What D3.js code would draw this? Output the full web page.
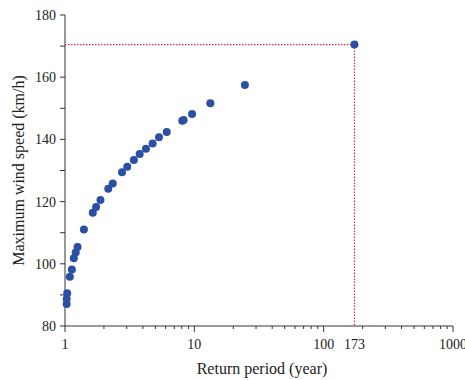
<!DOCTYPE html>
<html lang="en">
<head>
<meta charset="UTF-8">
<title>Return period</title>
<script src="https://d3js.org/d3.v7.min.js"></script>
<style>
  body { margin: 0; background: #fff; }
  text { font-family: "Liberation Serif", "Times New Roman", serif; fill: #222; }
</style>
</head>
<body>
<svg width="465" height="380"></svg>
<script>
// return period (year) and maximum wind speed (km/h)
const periods = [1.03, 1.03, 1.04, 1.09, 1.13, 1.17, 1.21, 1.25, 1.40, 1.64, 1.74, 1.88,
                 2.16, 2.34, 2.76, 3.03, 3.41, 3.78, 4.23, 4.76, 5.33, 6.12, 8.07, 8.26,
                 9.6, 13.3, 24.6, 173];
const speeds = [87.1, 88.7, 90.5, 95.8, 98.2, 101.8, 103.6, 105.4, 111.0, 116.4, 118.3, 120.5,
                124.1, 125.8, 129.4, 131.2, 133.4, 135.3, 137.0, 138.7, 140.7, 142.4, 146.0, 146.2,
                148.2, 151.6, 157.5, 170.5];
const xTickVals = [1, 10, 100, 173, 1000];
const yTickVals = [80, 100, 120, 140, 160, 180];
const designPeriod = 173, designSpeed = 170.5;

const svg = d3.select("svg");
const margin = {left: 65, right: 12, top: 15, bottom: 54};
const W = 465, H = 380;

const x = d3.scaleLog().domain([1, 1000]).range([margin.left, W - margin.right]);
const y = d3.scaleLinear().domain([80, 180]).range([H - margin.bottom, margin.top]);

const axisColor = "#333";

// minor x ticks (2..9 each decade)
const minorX = [];
[1, 10, 100].forEach(d => { for (let k = 2; k <= 9; k++) minorX.push(d * k); });
const xAxis = svg.append("g").attr("transform", `translate(0,${y(80)})`);
xAxis.append("line").attr("x1", x(1)).attr("x2", x(1000)).attr("stroke", axisColor);
xAxis.selectAll(".minor").data(minorX).enter().append("line")
  .attr("x1", d => x(d)).attr("x2", d => x(d)).attr("y1", 0).attr("y2", 3).attr("stroke", axisColor);
xAxis.selectAll(".major").data([1, 10, 100, 1000]).enter().append("line")
  .attr("x1", d => x(d)).attr("x2", d => x(d)).attr("y1", 0).attr("y2", 6).attr("stroke", axisColor);
xAxis.selectAll("text").data(xTickVals).enter().append("text")
  .attr("x", d => x(d)).attr("y", 23)
  .attr("text-anchor", "middle").style("font-size", "14px").text(d => d);

// y axis with ticks every 10, labels every 20
const yAxis = svg.append("g").attr("transform", `translate(${x(1)},0)`);
yAxis.append("line").attr("y1", y(80)).attr("y2", y(180)).attr("stroke", axisColor);
yAxis.selectAll(".tk").data(d3.range(80, 181, 10)).enter().append("line")
  .attr("x1", -5).attr("x2", 0).attr("y1", d => y(d)).attr("y2", d => y(d)).attr("stroke", axisColor);
yAxis.selectAll("text").data(yTickVals).enter().append("text")
  .attr("x", -9).attr("y", d => y(d)).attr("dy", "0.35em")
  .attr("text-anchor", "end").style("font-size", "14px").text(d => d);

// axis titles
svg.append("text").attr("x", (x(1) + x(1000)) / 2 + 3).attr("y", 374)
  .attr("text-anchor", "middle").style("font-size", "16px").text("Return period (year)");
svg.append("text").attr("transform", `translate(24,${(y(80) + y(180)) / 2}) rotate(-90)`)
  .attr("text-anchor", "middle").style("font-size", "16px").text("Maximum wind speed (km/h)");

// red dotted guide lines
const red = "#ee2b3b";
svg.append("line").attr("x1", x(1)).attr("x2", x(designPeriod))
  .attr("y1", y(designSpeed)).attr("y2", y(designSpeed))
  .attr("stroke", red).attr("stroke-width", 1.2).attr("stroke-dasharray", "1.5,1.5");
svg.append("line").attr("x1", x(designPeriod)).attr("x2", x(designPeriod))
  .attr("y1", y(designSpeed)).attr("y2", y(80))
  .attr("stroke", red).attr("stroke-width", 1.2).attr("stroke-dasharray", "1.5,1.5");

// points
svg.append("g").selectAll("circle").data(periods).enter().append("circle")
  .attr("cx", d => x(d)).attr("cy", (d, i) => y(speeds[i]))
  .attr("r", 4).attr("fill", "#2b4fa5");
</script>
</body>
</html>
